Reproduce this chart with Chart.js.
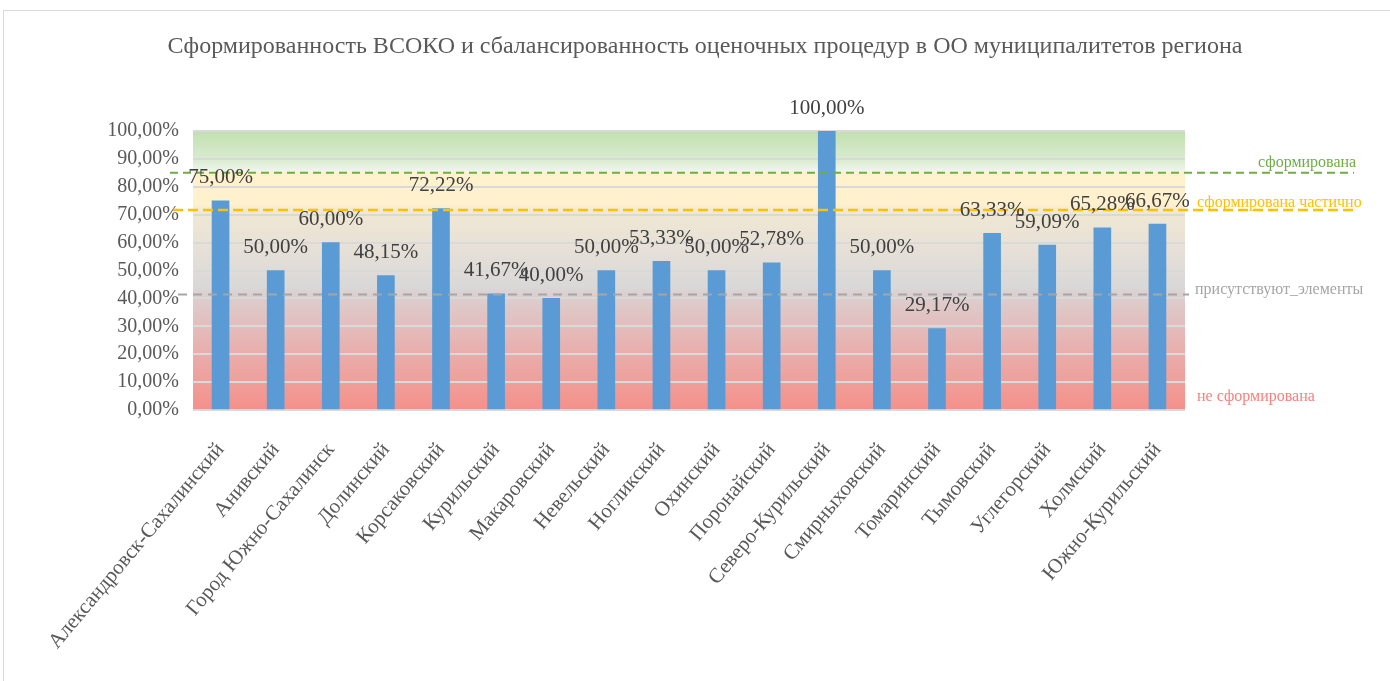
<!DOCTYPE html>
<html lang="ru">
<head>
<meta charset="utf-8">
<title>Сформированность ВСОКО</title>
<script src="https://cdn.jsdelivr.net/npm/chart.js@4.4.1/dist/chart.umd.min.js"></script>
<style>
    html, body { margin: 0; padding: 0; background: #fff; overflow: hidden; }
    #frame {
        position: absolute; left: 3px; top: 10px; width: 1400px; height: 700px;
        border: 1px solid #d9d9d9; box-sizing: border-box;
    }
    #wrap { position: absolute; left: 0; top: 0; width: 1390px; height: 681px; }
</style>
</head>
<body>
<div id="frame"></div>
<div id="wrap"><canvas id="chart"></canvas></div>
<script>
// Data
const chartTitle = 'Сформированность ВСОКО и сбалансированность оценочных процедур в ОО муниципалитетов региона';

const categories = [
    'Александровск-Сахалинский', 'Анивский', 'Город Южно-Сахалинск', 'Долинский',
    'Корсаковский', 'Курильский', 'Макаровский', 'Невельский', 'Ногликский',
    'Охинский', 'Поронайский', 'Северо-Курильский', 'Смирныховский', 'Томаринский',
    'Тымовский', 'Углегорский', 'Холмский', 'Южно-Курильский'
];

const values = [75.00, 50.00, 60.00, 48.15, 72.22, 41.67, 40.00, 50.00, 53.33,
                50.00, 52.78, 100.00, 50.00, 29.17, 63.33, 59.09, 65.28, 66.67];

// threshold levels (dashed lines) and their captions
const levelValues = [85, 71.7, 41.4];
const levelNames = ['сформирована', 'сформирована частично', 'присутствуют_элементы'];
const bottomLevelName = 'не сформирована';
const bottomLevelValue = 4.6;

const yMin = 0, yMax = 100, yStep = 10;

function fmtPct(v) {
    return v.toFixed(2).replace('.', ',') + '%';
}

const SERIF = "'Liberation Serif', 'Times New Roman', serif";

/* ===========================
   Plugins
   =========================== */

// gradient background of the plot area
const bgPlugin = {
    id: 'bgGradient',
    beforeDraw(chart) {
        const { ctx, chartArea: a, scales: { y } } = chart;
        const g = ctx.createLinearGradient(0, y.getPixelForValue(100), 0, y.getPixelForValue(0));
        const stops = [
            [100, '#c3dfb0'], [90, '#d8ebcf'], [85.6, '#eff6ea'], [85, '#fff2cc'],
            [74, '#fff1cd'], [71, '#f1e8d3'], [58, '#e6e0d7'], [44, '#d9d8d8'],
            [41.4, '#dccfcf'], [30, '#e3bdbc'], [18, '#eaaaa7'], [0, '#f5908a']
        ];
        stops.forEach(([v, c]) => g.addColorStop((100 - v) / 100, c));
        ctx.save();
        ctx.fillStyle = g;
        ctx.fillRect(a.left, a.top, a.right - a.left, a.bottom - a.top);
        ctx.restore();
    }
};

// dashed level lines + captions + value labels
const overlayPlugin = {
    id: 'overlay',
    afterDatasetsDraw(chart) {
        const { ctx, scales: { y } } = chart;
        const lineStyles = [
            { color: '#70ad47', x0: 170, x1: 1354, dash: [8, 5], w: 2, tx: 1258, dy: -10 },
            { color: '#ffc000', x0: 173, x1: 1356, dash: [10, 5], w: 2.5, tx: 1197, dy: -7 },
            { color: '#a5a5a5', x0: 178, x1: 1189, dash: [9, 6], w: 2, tx: 1195, dy: -5 }
        ];
        ctx.save();
        levelValues.forEach((v, i) => {
            const s = lineStyles[i];
            const py = y.getPixelForValue(v);
            ctx.beginPath();
            ctx.setLineDash(s.dash);
            ctx.strokeStyle = s.color;
            ctx.lineWidth = s.w;
            ctx.moveTo(s.x0, py);
            ctx.lineTo(s.x1, py);
            ctx.stroke();
            ctx.setLineDash([]);
            ctx.font = '16px ' + SERIF;
            ctx.fillStyle = s.color;
            ctx.textAlign = 'left';
            ctx.textBaseline = 'middle';
            ctx.fillText(levelNames[i], s.tx, py + s.dy);
        });
        ctx.font = '16px ' + SERIF;
        ctx.fillStyle = '#f4837d';
        ctx.textAlign = 'left';
        ctx.textBaseline = 'middle';
        ctx.fillText(bottomLevelName, 1197, y.getPixelForValue(bottomLevelValue));

        // value labels above bars
        const meta = chart.getDatasetMeta(0);
        ctx.font = '21px ' + SERIF;
        ctx.fillStyle = '#404040';
        ctx.textAlign = 'center';
        ctx.textBaseline = 'middle';
        meta.data.forEach((bar, i) => {
            ctx.fillText(fmtPct(values[i]), bar.x, bar.y - 23);
        });

        // title
        ctx.font = '24px ' + SERIF;
        ctx.fillStyle = '#595959';
        ctx.fillText(chartTitle, 705, 47);
        ctx.restore();
    }
};

/* ===========================
   Chart
   =========================== */

const ctx = document.getElementById('chart').getContext('2d');
const chart = new Chart(ctx, {
    type: 'bar',
    data: {
        labels: categories,
        datasets: [{
            data: values,
            backgroundColor: '#5b9bd5',
            borderWidth: 0,
            barThickness: 17
        }]
    },
    options: {
        responsive: true,
        maintainAspectRatio: false,
        animation: false,
        layout: { padding: { top: 131, right: 205, left: 0, bottom: 0 } },
        scales: {
            x: {
                grid: { display: false, drawTicks: false },
                border: { display: false },
                ticks: {
                    minRotation: 50,
                    maxRotation: 50,
                    autoSkip: false,
                    padding: 28,
                    color: '#595959',
                    font: { family: SERIF, size: 21 }
                },
                afterFit(scale) { scale.height = 271; }
            },
            y: {
                min: yMin,
                max: yMax,
                grid: { color: '#d9d9d9', lineWidth: 2, drawTicks: false },
                border: { display: false },
                ticks: {
                    stepSize: yStep,
                    padding: 14,
                    color: '#595959',
                    font: { family: SERIF, size: 20 },
                    callback: (v) => fmtPct(v)
                },
                afterFit(scale) { scale.width = 193; }
            }
        },
        plugins: {
            legend: { display: false },
            tooltip: { enabled: false },
            title: { display: false }
        }
    },
    plugins: [bgPlugin, overlayPlugin]
});
</script>
</body>
</html>
